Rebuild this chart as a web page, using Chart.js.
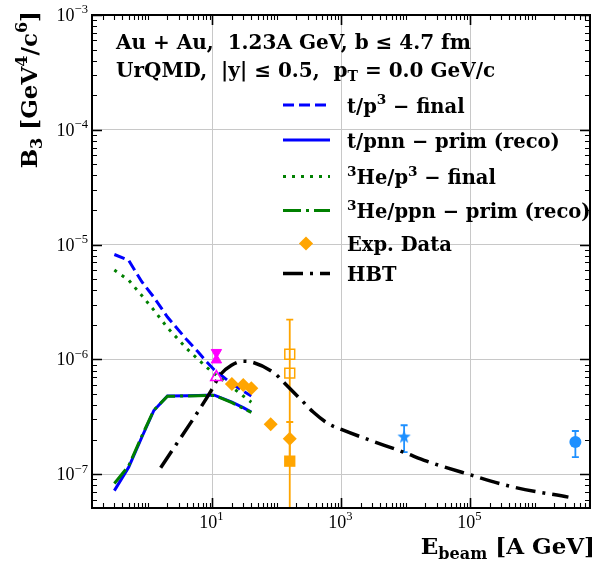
<!DOCTYPE html>
<html>
<head>
<meta charset="utf-8">
<script src="https://cdn.jsdelivr.net/npm/chart.js@4.4.1/dist/chart.umd.min.js"></script>
<style>
  html, body { margin: 0; padding: 0; background: #fff; }
</style>
</head>
<body>
<canvas id="b3Chart" width="611" height="563"></canvas>
<script>
// ---- UrQMD coalescence parameter B3 vs beam energy ----
const urqmdEnergy = [0.3, 0.5, 0.8, 1.23, 2, 4, 6, 8, 10.7, 20, 30, 40];
const tP3Final    = [8.2e-6, 7.3e-6, 4.75e-6, 3.48e-6, 2.34e-6, 1.48e-6, 1.16e-6, 9.6e-7, 8.1e-7, 6.15e-7, 5.3e-7, 4.8e-7];
const tPnnPrim    = [7.2e-8, 1.15e-7, 2.1e-7, 3.59e-7, 4.8e-7, 4.82e-7, 4.85e-7, 4.87e-7, 4.88e-7, 4.24e-7, 3.8e-7, 3.48e-7];
const he3P3Final  = [6.0e-6, 4.9e-6, 3.6e-6, 2.69e-6, 1.89e-6, 1.24e-6, 1.0e-6, 8.6e-7, 7.5e-7, 5.75e-7, 4.8e-7, 4.24e-7];
const he3PpnPrim  = [8.3e-8, 1.18e-7, 2.15e-7, 3.62e-7, 4.78e-7, 4.8e-7, 4.83e-7, 4.85e-7, 4.86e-7, 4.2e-7, 3.75e-7, 3.45e-7];

// HBT estimate
const hbtEnergy = [1.57, 9.6, 13, 19.7, 29.9, 40.4, 92.7, 133, 241, 365, 624, 1067, 2773, 9120, 21040, 87900, 465600, 3.33e6];
const hbtB3     = [1.14e-7, 5.38e-7, 7.28e-7, 8.89e-7, 9.64e-7, 9.5e-7, 7.53e-7, 6.17e-7, 4.41e-7, 3.48e-7, 2.76e-7, 2.42e-7, 1.98e-7, 1.56e-7, 1.30e-7, 1.01e-7, 7.73e-8, 6.32e-8];

// measurements
const expDiamondE   = [20, 30, 40, 80, 158];
const expDiamondB3  = [6.1e-7, 6.0e-7, 5.6e-7, 2.72e-7, 2.04e-7];
const expDiamondErr = [0, 0, 0, 0, 0.81e-7];
const expOpenSqE    = [158, 158];
const expOpenSqB3   = [1.11e-6, 7.6e-7];
const expOpenSqErr  = [1.11e-6, 0];
const expFilledSqE  = [158];
const expFilledSqB3 = [1.3e-7];
const agsE          = [11.5];
const agsDownB3     = [1.15e-6];
const agsUpB3       = [9.9e-7];
const agsOpenB3     = [7.0e-7];
const rhicE         = [9400];
const rhicB3        = [2.13e-7];
const rhicErrLo     = [0.57e-7];
const rhicErrHi     = [0.54e-7];
const lhcE          = [4.27e6];
const lhcB3         = [1.91e-7];
const lhcErrLo      = [0.5e-7];
const lhcErrHi      = [0.47e-7];

// axes
const xRange = [0.135, 7.2e6];
const yRange = [5.08e-8, 1e-3];
const xTickValues = [10, 1e3, 1e5];
const xTickLabels = [['10', '1'], ['10', '3'], ['10', '5']];
const yTickValues = [1e-3, 1e-4, 1e-5, 1e-6, 1e-7];
const yTickLabels = [['10', '\u22123'], ['10', '\u22124'], ['10', '\u22125'], ['10', '\u22126'], ['10', '\u22127']];

const BLUE = '#0000ff';
const GREEN = '#008000';
const ORANGE = '#ffa500';
const MAGENTA = '#ff00ff';
const DODGER = '#1e90ff';
const SERIF = '"DejaVu Serif", serif';
const TICK_SERIF = '"Liberation Serif", serif';

const pts = (xs, ys) => xs.map((x, i) => ({ x, y: ys[i] }));

function makeStar(r, color) {
  const c = document.createElement('canvas');
  c.width = c.height = Math.ceil(2 * r + 2);
  const g = c.getContext('2d');
  const cx = c.width / 2, cy = c.height / 2 + 0.5;
  g.beginPath();
  for (let i = 0; i < 10; i++) {
    const rr = i % 2 ? r * 0.42 : r;
    const a = -Math.PI / 2 + i * Math.PI / 5;
    g.lineTo(cx + rr * Math.cos(a), cy + rr * Math.sin(a));
  }
  g.closePath();
  g.fillStyle = color;
  g.fill();
  return c;
}

// rich text: plain strings, or [text, 'sup'|'sub']
function measureRich(ctx, parts, size, weight, family) {
  let w = 0;
  parts.forEach(p => {
    const [t, k] = Array.isArray(p) ? p : [p, ''];
    ctx.font = `${weight} ${k ? size * 0.7 : size}px ${family}`;
    w += ctx.measureText(t).width;
  });
  return w;
}
function drawRich(ctx, parts, x, y, size, opts = {}) {
  const weight = opts.weight || 'bold';
  const family = opts.family || SERIF;
  const w = measureRich(ctx, parts, size, weight, family);
  let cx = opts.align === 'right' ? x - w : opts.align === 'center' ? x - w / 2 : x;
  ctx.textAlign = 'left';
  ctx.textBaseline = 'alphabetic';
  parts.forEach(p => {
    const [t, k] = Array.isArray(p) ? p : [p, ''];
    ctx.font = `${weight} ${k ? size * 0.7 : size}px ${family}`;
    const dy = k === 'sup' ? -size * 0.42 : k === 'sub' ? size * 0.22 : 0;
    ctx.fillText(t, cx, y + dy);
    cx += ctx.measureText(t).width;
  });
}

const errorBars = [
  ...expDiamondE.map((x, i) => ({ x, y: expDiamondB3[i], lo: expDiamondErr[i], hi: expDiamondErr[i], color: ORANGE })),
  ...expOpenSqE.map((x, i) => ({ x, y: expOpenSqB3[i], lo: expOpenSqErr[i], hi: expOpenSqErr[i], color: ORANGE })),
  ...rhicE.map((x, i) => ({ x, y: rhicB3[i], lo: rhicErrLo[i], hi: rhicErrHi[i], color: DODGER })),
  ...lhcE.map((x, i) => ({ x, y: lhcB3[i], lo: lhcErrLo[i], hi: lhcErrHi[i], color: DODGER })),
].filter(e => e.lo > 0 || e.hi > 0);

const errorBarPlugin = {
  id: 'errorBars',
  beforeDatasetsDraw(chart) {
    const { ctx, chartArea: a, scales: { x, y } } = chart;
    ctx.save();
    ctx.beginPath();
    ctx.rect(a.left, a.top, a.right - a.left, a.bottom - a.top);
    ctx.clip();
    ctx.lineWidth = 1.8;
    errorBars.forEach(e => {
      const px = x.getPixelForValue(e.x);
      const top = y.getPixelForValue(e.y + e.hi);
      const low = e.y - e.lo;
      const bot = low > y.min ? y.getPixelForValue(low) : a.bottom + 2;
      ctx.strokeStyle = e.color;
      ctx.beginPath();
      ctx.moveTo(px, top); ctx.lineTo(px, bot);
      ctx.moveTo(px - 3.5, top); ctx.lineTo(px + 3.5, top);
      if (low > y.min) { ctx.moveTo(px - 3.5, bot); ctx.lineTo(px + 3.5, bot); }
      ctx.stroke();
    });
    ctx.restore();
  }
};

const framePlugin = {
  id: 'frame',
  afterDraw(chart) {
    const { ctx, chartArea: a, scales: { x, y } } = chart;
    ctx.save();
    ctx.strokeStyle = '#000';
    ctx.fillStyle = '#000';

    // inward ticks on all four sides
    const isMajorX = v => xTickValues.some(t => Math.abs(t - v) / t < 1e-9);
    const isMajorY = v => yTickValues.some(t => Math.abs(t - v) / t < 1e-9);
    for (let n = Math.floor(Math.log10(x.min)); n <= Math.ceil(Math.log10(x.max)); n++) {
      for (let m = 1; m < 10; m++) {
        const v = m * Math.pow(10, n);
        if (v < x.min || v > x.max) continue;
        const px = Math.round(x.getPixelForValue(v)) + 0.5;
        const len = isMajorX(v) ? 10 : 5;
        ctx.lineWidth = isMajorX(v) ? 1.6 : 1.1;
        ctx.beginPath();
        ctx.moveTo(px, a.bottom); ctx.lineTo(px, a.bottom - len);
        ctx.moveTo(px, a.top); ctx.lineTo(px, a.top + len);
        ctx.stroke();
      }
    }
    for (let n = Math.floor(Math.log10(y.min)); n <= Math.ceil(Math.log10(y.max)); n++) {
      for (let m = 1; m < 10; m++) {
        const v = m * Math.pow(10, n);
        if (v < y.min * 0.9999 || v > y.max * 1.0001) continue;
        const py = Math.round(y.getPixelForValue(v)) + 0.5;
        const len = isMajorY(v) ? 10 : 5;
        ctx.lineWidth = isMajorY(v) ? 1.6 : 1.1;
        ctx.beginPath();
        ctx.moveTo(a.left, py); ctx.lineTo(a.left + len, py);
        ctx.moveTo(a.right, py); ctx.lineTo(a.right - len, py);
        ctx.stroke();
      }
    }

    ctx.lineWidth = 2;
    ctx.strokeRect(a.left, a.top, a.right - a.left, a.bottom - a.top);

    // tick labels
    xTickValues.forEach((v, i) => {
      const [base, exp] = xTickLabels[i];
      drawRich(ctx, [base, [exp, 'sup']], x.getPixelForValue(v) - 1, a.bottom + 20, 18,
        { weight: 'normal', family: TICK_SERIF, align: 'center' });
    });
    yTickValues.forEach((v, i) => {
      const [base, exp] = yTickLabels[i];
      drawRich(ctx, [base, [exp, 'sup']], a.left - 4, y.getPixelForValue(v) + 6, 18,
        { weight: 'normal', family: TICK_SERIF, align: 'right' });
    });

    // axis titles
    drawRich(ctx, ['E', ['beam', 'sub'], ' [A GeV]'], 595, 554, 23, { align: 'right' });
    ctx.save();
    ctx.translate(37, 11);
    ctx.rotate(-Math.PI / 2);
    drawRich(ctx, ['B', ['3', 'sub'], ' [GeV', ['4', 'sup'], '/c', ['6', 'sup'], ']'], 0, 0, 23, { align: 'right' });
    ctx.restore();

    // run conditions
    drawRich(ctx, ['Au + Au,  1.23A GeV, b \u2264 4.7 fm'], 116, 48.5, 20);
    drawRich(ctx, ['UrQMD,  |y| \u2264 0.5,  p', ['T', 'sub'], ' = 0.0 GeV/c'], 116, 77, 20);

    // legend
    const rows = [105, 140, 176.5, 210.5, 243.5, 273.5];
    const entries = chart.data.datasets.filter(d => d.richLabel);
    entries.forEach((d, i) => {
      const cy = rows[i];
      ctx.save();
      if (d.showLine === false) {
        ctx.fillStyle = d.pointBackgroundColor;
        ctx.translate(306, cy);
        ctx.rotate(Math.PI / 4);
        ctx.fillRect(-5, -5, 10, 10);
      } else {
        ctx.strokeStyle = d.borderColor;
        ctx.lineWidth = d.borderWidth;
        ctx.setLineDash(d.borderDash || []);
        ctx.beginPath();
        ctx.moveTo(283, cy); ctx.lineTo(330, cy);
        ctx.stroke();
      }
      ctx.restore();
      ctx.fillStyle = '#000';
      drawRich(ctx, d.richLabel, 347, cy + 7.5, 19.5);
    });
    ctx.restore();
  }
};

const lineDefaults = { showLine: true, pointRadius: 0, fill: false, borderCapStyle: 'butt' };
const markerDefaults = { showLine: false, pointBorderWidth: 1.5 };

new Chart(document.getElementById('b3Chart'), {
  type: 'line',
  data: {
    datasets: [
      { ...lineDefaults, label: 't/p\u00b3 \u2212 final', richLabel: ['t/p', ['3', 'sup'], ' \u2212 final'],
        data: pts(urqmdEnergy, tP3Final), borderColor: BLUE, borderWidth: 3, borderDash: [11, 5], order: 9 },
      { ...lineDefaults, label: 't/pnn \u2212 prim (reco)', richLabel: ['t/pnn \u2212 prim (reco)'],
        data: pts(urqmdEnergy, tPnnPrim), borderColor: BLUE, borderWidth: 3, order: 8 },
      { ...lineDefaults, label: '\u00b3He/p\u00b3 \u2212 final', richLabel: [['3', 'sup'], 'He/p', ['3', 'sup'], ' \u2212 final'],
        data: pts(urqmdEnergy, he3P3Final), borderColor: GREEN, borderWidth: 3, borderDash: [3, 6], order: 7 },
      { ...lineDefaults, label: '\u00b3He/ppn \u2212 prim (reco)', richLabel: [['3', 'sup'], 'He/ppn \u2212 prim (reco)'],
        data: pts(urqmdEnergy, he3PpnPrim), borderColor: GREEN, borderWidth: 3, borderDash: [18, 5, 3, 5], order: 6 },
      { ...markerDefaults, label: 'Exp. Data', richLabel: ['Exp. Data'],
        data: pts(expDiamondE, expDiamondB3), pointStyle: 'rectRot', pointRadius: 7,
        pointBackgroundColor: ORANGE, pointBorderColor: ORANGE, pointBorderWidth: 0, order: 2 },
      { ...lineDefaults, label: 'HBT', richLabel: ['HBT'],
        data: pts(hbtEnergy, hbtB3), borderColor: '#000', borderWidth: 3.5, borderDash: [20, 7, 3, 7],
        cubicInterpolationMode: 'monotone', order: 5 },
      { ...markerDefaults, label: 'open squares', data: pts(expOpenSqE, expOpenSqB3), pointStyle: 'rect', pointRadius: 7,
        pointBackgroundColor: 'rgba(0,0,0,0)', pointBorderColor: ORANGE, order: 3 },
      { ...markerDefaults, label: 'filled square', data: pts(expFilledSqE, expFilledSqB3), pointStyle: 'rect', pointRadius: 8,
        pointBackgroundColor: ORANGE, pointBorderColor: ORANGE, pointBorderWidth: 0, order: 3 },
      { ...markerDefaults, label: 'AGS down', data: pts(agsE, agsDownB3), pointStyle: 'triangle', pointRotation: 180, pointRadius: 6,
        pointBackgroundColor: MAGENTA, pointBorderColor: MAGENTA, pointBorderWidth: 1, order: 1 },
      { ...markerDefaults, label: 'AGS up', data: pts(agsE, agsUpB3), pointStyle: 'triangle', pointRadius: 6,
        pointBackgroundColor: MAGENTA, pointBorderColor: MAGENTA, pointBorderWidth: 1, order: 1 },
      { ...markerDefaults, label: 'AGS open', data: pts(agsE, agsOpenB3), pointStyle: 'triangle', pointRadius: 6.5,
        pointBackgroundColor: 'rgba(0,0,0,0)', pointBorderColor: MAGENTA, pointBorderWidth: 1.6, order: 1 },
      { ...markerDefaults, label: 'RHIC', data: pts(rhicE, rhicB3), pointStyle: makeStar(7, DODGER), order: 1 },
      { ...markerDefaults, label: 'LHC', data: pts(lhcE, lhcB3), pointStyle: 'circle', pointRadius: 6,
        pointBackgroundColor: DODGER, pointBorderColor: DODGER, pointBorderWidth: 0, order: 1 },
    ],
  },
  options: {
    responsive: false,
    animation: false,
    events: [],
    layout: { padding: { top: 15, right: 21, left: 0, bottom: 0 } },
    plugins: { legend: { display: false }, tooltip: { enabled: false } },
    scales: {
      x: {
        type: 'logarithmic', min: xRange[0], max: xRange[1],
        afterBuildTicks: s => { s.ticks = xTickValues.map(value => ({ value })); },
        afterFit: s => { s.height = 55; },
        ticks: { display: false },
        grid: { color: '#c8c8c8', lineWidth: 1, drawTicks: false },
        border: { display: false },
      },
      y: {
        type: 'logarithmic', min: yRange[0], max: yRange[1],
        afterBuildTicks: s => { s.ticks = yTickValues.map(value => ({ value })); },
        afterFit: s => { s.width = 92; },
        ticks: { display: false },
        grid: { color: '#c8c8c8', lineWidth: 1, drawTicks: false },
        border: { display: false },
      },
    },
  },
  plugins: [errorBarPlugin, framePlugin],
});
</script>
</body>
</html>
